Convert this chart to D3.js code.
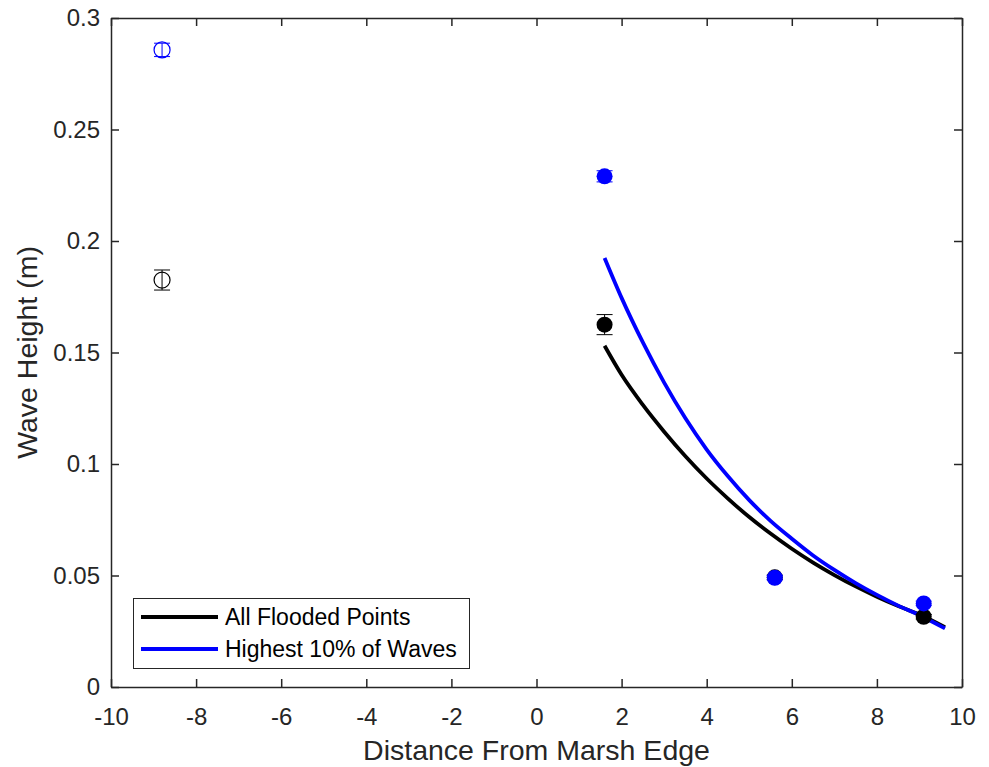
<!DOCTYPE html>
<html><head><meta charset="utf-8">
<script src="https://cdn.jsdelivr.net/npm/d3@7"></script>
<style>body{margin:0;background:#fff}svg{display:block}</style>
</head><body>
<script>
// ---- data ----
const xTicks = [-10,-8,-6,-4,-2,0,2,4,6,8,10];
const xTickLabels = ["-10","-8","-6","-4","-2","0","2","4","6","8","10"];
const yTicks = [0,0.05,0.1,0.15,0.2,0.25,0.3];
const yTickLabels = ["0","0.05","0.1","0.15","0.2","0.25","0.3"];
// open markers (outside marsh)
const openX = [-8.8, -8.8];
const openY = [0.1825, 0.2857];
const openErr = [0.0045, 0.003];
const openSeries = ["all","top10"];
// filled markers
const allX = [1.6, 5.6, 9.1];
const allY = [0.1625, 0.0492, 0.0315];
const allErr = [0.0045, 0.001, 0.001];
const topX = [1.6, 5.6, 9.1];
const topY = [0.2290, 0.0490, 0.0375];
const topErr = [0.0025, 0.001, 0.001];
// fitted curves
const fitX = [1.6, 2, 2.5, 3, 3.5, 4, 4.5, 5, 5.5, 6, 6.5, 7, 7.5, 8, 8.5, 9, 9.6];
const fitAll = [0.153, 0.140, 0.1265, 0.1145, 0.1035, 0.0935, 0.0845, 0.0762, 0.0688, 0.0620, 0.0558, 0.0502, 0.0451, 0.0405, 0.0363, 0.0325, 0.0268];
const fitTop = [0.1924, 0.1745, 0.1545, 0.1365, 0.1205, 0.1065, 0.0945, 0.0838, 0.0745, 0.0665, 0.0590, 0.0525, 0.0466, 0.0413, 0.0365, 0.0322, 0.0263];
const legendLabels = ["All Flooded Points", "Highest 10% of Waves"];
const colors = {all: "#000000", top10: "#0000ff"};

// ---- layout ----
const W = 989, H = 767;
const L = 111, R = 962, T = 18, B = 687;
const svg = d3.select("body").append("svg").attr("width", W).attr("height", H);
const x = d3.scaleLinear().domain([-10, 10]).range([L, R]);
const y = d3.scaleLinear().domain([0, 0.3]).range([B, T]);
const txt = "#262626";
const font = "Liberation Sans, Arial, sans-serif";

// axes (box with inward ticks)
const tl = 8;
const gB = svg.append("g").attr("transform", `translate(0,${B})`)
  .call(d3.axisBottom(x).tickValues(xTicks).tickSizeInner(-tl).tickSizeOuter(0).tickPadding(21).tickFormat((d,i)=>xTickLabels[i]));
const gT = svg.append("g").attr("transform", `translate(0,${T})`)
  .call(d3.axisTop(x).tickValues(xTicks).tickSizeInner(-tl).tickSizeOuter(0).tickFormat(""));
const gL = svg.append("g").attr("transform", `translate(${L},0)`)
  .call(d3.axisLeft(y).tickValues(yTicks).tickSizeInner(-tl).tickSizeOuter(0).tickPadding(11).tickFormat((d,i)=>yTickLabels[i]));
const gR = svg.append("g").attr("transform", `translate(${R},0)`)
  .call(d3.axisRight(y).tickValues(yTicks).tickSizeInner(-tl).tickSizeOuter(0).tickFormat(""));
[gB,gT,gL,gR].forEach(g=>{
  g.select(".domain").attr("stroke", txt).attr("stroke-width", 1.5);
  g.selectAll(".tick line").attr("stroke", txt).attr("stroke-width", 1.5);
  g.selectAll(".tick text").attr("fill", txt).attr("font-family", font).attr("font-size", 24);
});
gB.selectAll(".tick text").attr("dy", "0.71em");

// axis labels
svg.append("text").attr("x", (L+R)/2).attr("y", 760).attr("text-anchor","middle")
  .attr("font-family", font).attr("font-size", 28.5).attr("fill", txt).text("Distance From Marsh Edge");
svg.append("text").attr("transform", `translate(37,${(T+B)/2}) rotate(-90)`).attr("text-anchor","middle")
  .attr("font-family", font).attr("font-size", 28.5).attr("fill", txt).text("Wave Height (m)");

// fit lines
const line = d3.line().x(d=>x(d[0])).y(d=>y(d[1])).curve(d3.curveMonotoneX);
svg.append("path").datum(fitX.map((v,i)=>[v,fitAll[i]])).attr("d", line)
  .attr("fill","none").attr("stroke", colors.all).attr("stroke-width", 3.8);
svg.append("path").datum(fitX.map((v,i)=>[v,fitTop[i]])).attr("d", line)
  .attr("fill","none").attr("stroke", colors.top10).attr("stroke-width", 3.8);

// error bars + markers
const r = 8, cap = 8;
function errbar(cx, cy, e, col) {
  const g = svg.append("g").attr("stroke", col).attr("stroke-width", 1);
  g.append("line").attr("x1", x(cx)).attr("x2", x(cx)).attr("y1", y(cy-e)).attr("y2", y(cy+e));
  g.append("line").attr("x1", x(cx)-cap).attr("x2", x(cx)+cap).attr("y1", y(cy-e)).attr("y2", y(cy-e));
  g.append("line").attr("x1", x(cx)-cap).attr("x2", x(cx)+cap).attr("y1", y(cy+e)).attr("y2", y(cy+e));
}
openX.forEach((v,i)=>{
  const col = colors[openSeries[i]];
  svg.append("circle").attr("cx", x(v)).attr("cy", y(openY[i])).attr("r", r)
    .attr("fill","none").attr("stroke", col).attr("stroke-width", 1.2);
  errbar(v, openY[i], openErr[i], col);
});
allX.forEach((v,i)=>{
  errbar(v, allY[i], allErr[i], colors.all);
  svg.append("circle").attr("cx", x(v)).attr("cy", y(allY[i])).attr("r", r).attr("fill", colors.all);
});
topX.forEach((v,i)=>{
  errbar(v, topY[i], topErr[i], colors.top10);
  svg.append("circle").attr("cx", x(v)).attr("cy", y(topY[i])).attr("r", r).attr("fill", colors.top10);
});

// legend
const lg = svg.append("g");
lg.append("rect").attr("x", 133.5).attr("y", 598.5).attr("width", 336).attr("height", 70)
  .attr("fill","#fff").attr("stroke", txt).attr("stroke-width", 1);
legendLabels.forEach((t,i)=>{
  const yy = 617 + i*32;
  lg.append("line").attr("x1", 141).attr("x2", 218).attr("y1", yy).attr("y2", yy)
    .attr("stroke", i===0 ? colors.all : colors.top10).attr("stroke-width", 3.8);
  lg.append("text").attr("x", 225).attr("y", yy).attr("dy","0.35em")
    .attr("font-family", font).attr("font-size", 23).attr("fill", "#000").text(t);
});
</script>
</body></html>
